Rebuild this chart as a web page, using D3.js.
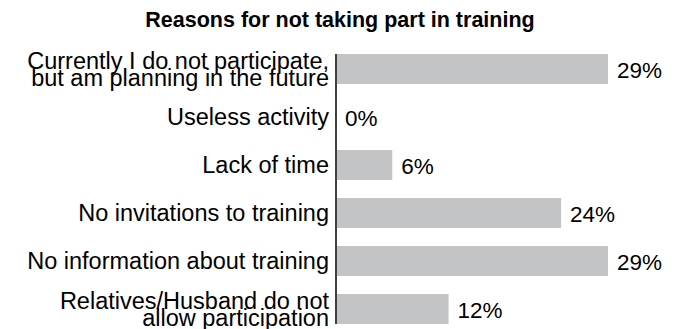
<!DOCTYPE html>
<html>
<head>
<meta charset="utf-8">
<script src="https://cdn.jsdelivr.net/npm/d3@7/dist/d3.min.js"></script>
<style>
  html, body { margin: 0; padding: 0; background: #fff; }
  svg { display: block; font-family: "Liberation Sans", Arial, sans-serif; }
</style>
</head>
<body>
<svg id="chart" width="678" height="329"></svg>
<script>
// Survey answers: why respondents do not take part in training (percent)
const title = "Reasons for not taking part in training";
const categories = [
  "Currently I do not participate,\nbut am planning in the future",
  "Useless activity",
  "Lack of time",
  "No invitations to training",
  "No information about training",
  "Relatives/Husband do not\nallow participation"
];
const values = [29, 0, 6, 24, 29, 12];
const valueLabels = ["29%", "0%", "6%", "24%", "29%", "12%"];

const svg = d3.select("#chart");
const width = 678, height = 329;
const margin = { left: 336, right: 40, top: 45, bottom: -4 };

const x = d3.scaleLinear()
  .domain([0, 29])
  .range([margin.left, margin.left + 272]);

const y = d3.scaleBand()
  .domain(categories)
  .range([margin.top, height - margin.bottom])
  .paddingInner(0.375)
  .paddingOuter(0.1875);

// Title
svg.append("text")
  .attr("x", 340)
  .attr("y", 27)
  .attr("text-anchor", "middle")
  .attr("font-weight", "bold")
  .attr("font-size", 21.5)
  .attr("fill", "#000")
  .text(title);

// Bars
svg.append("g")
  .selectAll("rect")
  .data(categories)
  .join("rect")
  .attr("x", x(0) + 1)
  .attr("y", d => y(d))
  .attr("width", (d, i) => Math.max(0, x(values[i]) - x(0) - 1))
  .attr("height", y.bandwidth())
  .attr("fill", "#c3c4c6");

// Category axis on the left, no ticks
const axis = d3.axisLeft(y).tickSize(0).tickPadding(8);
const gAxis = svg.append("g")
  .attr("transform", `translate(${x(0)},0)`)
  .call(axis);
gAxis.select(".domain")
  .attr("d", `M0,${y(categories[0])}V${y(categories[categories.length - 1]) + y.bandwidth()}`)
  .attr("stroke", "#000")
  .attr("stroke-width", 1.5);
gAxis.selectAll(".tick text").each(function (d) {
  const t = d3.select(this);
  const lines = d.split("\n");
  t.text(null)
    .attr("font-family", "'Liberation Sans', Arial, sans-serif")
    .attr("font-size", 23.5)
    .attr("fill", "#000")
    .attr("dy", null);
  const lh = 17;
  lines.forEach((ln, k) => {
    t.append("tspan")
      .attr("x", -7)
      .attr("y", (k - (lines.length - 1) / 2) * lh)
      .attr("dy", "0.34em")
      .text(ln);
  });
});

// Value labels
svg.append("g")
  .selectAll("text")
  .data(categories)
  .join("text")
  .attr("x", (d, i) => x(values[i]) + 9)
  .attr("y", d => y(d) + y.bandwidth() / 2)
  .attr("dy", "0.38em")
  .attr("font-size", 22.5)
  .attr("fill", "#000")
  .text((d, i) => valueLabels[i]);
</script>
</body>
</html>
